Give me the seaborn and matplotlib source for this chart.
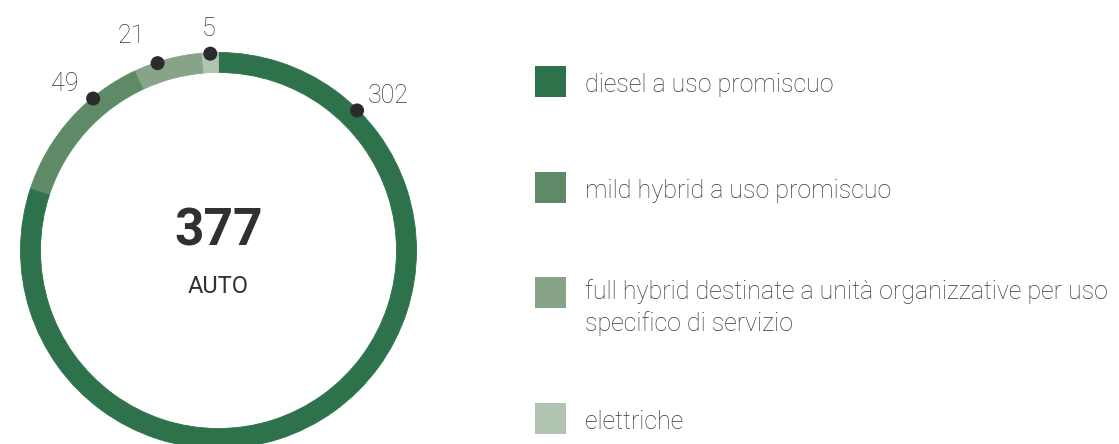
import numpy as np
import pandas as pd
import matplotlib
matplotlib.use("Agg")
import matplotlib.pyplot as plt
import seaborn as sns

# --- data -------------------------------------------------------------
categories = [
    "diesel a uso promiscuo",
    "mild hybrid a uso promiscuo",
    "full hybrid destinate a unità organizzative per uso\nspecifico di servizio",
    "elettriche",
]
counts = [302, 49, 21, 5]
unit_label = "AUTO"
colors = ["#2E724B", "#5E8A67", "#87A488", "#B0C4B1"]

# --- layout -----------------------------------------------------------
# position of each value marker along its own arc (fraction from arc start,
# arcs run clockwise from twelve o'clock)
marker_frac = [0.155, 0.686, 0.34, 0.5]
# value label offset from its marker, pixels (right, up), baseline anchored
label_offsets = [(31, 7), (-28, 7.5), (-26, 20.5), (-2, 18)]
# legend rows: vertical centre of each swatch, pixels from top
legend_rows = [81.3, 187.3, 292.7, 418.3]

W, H, DPI = 1119, 444, 100
CX, CY = 218.5, H - 250.5
R_OUT, RING = 198, 20
HALF = 262

TEXT = "#363636"

sns.set_theme(style="white")
plt.rcParams["font.family"] = ["Roboto", "DejaVu Sans"]

fig = plt.figure(figsize=(W / DPI, H / DPI), dpi=DPI)
fig.patch.set_facecolor("white")

# donut axes: one data unit == one pixel, origin at the ring centre
ax = fig.add_axes([(CX - HALF) / W, (CY - HALF) / H, 2 * HALF / W, 2 * HALF / H])
ax.pie(counts, colors=colors, radius=R_OUT, startangle=90, counterclock=False,
       wedgeprops=dict(width=RING, linewidth=0.6))
for w, c in zip(ax.patches, colors):
    w.set_edgecolor(c)

total = sum(counts)
starts = np.concatenate([[0], np.cumsum(counts)[:-1]])
pos = (starts + np.array(marker_frac) * np.array(counts)) / total
theta = np.deg2rad(90 - 360 * pos)
r_dot = R_OUT - 1
dots = pd.DataFrame({"x": r_dot * np.cos(theta), "y": r_dot * np.sin(theta),
                     "value": counts})
sns.scatterplot(data=dots, x="x", y="y", s=102, color="#2b2b2b",
                edgecolor="none", ax=ax, zorder=5, legend=False)

for (_, row), off in zip(dots.iterrows(), label_offsets):
    ax.annotate(str(int(row["value"])), (row["x"], row["y"]), xytext=off,
                textcoords="offset pixels", ha="center", va="baseline",
                fontsize=18, fontweight="light", color=TEXT)

ax.text(0, 4.8, str(total), ha="center", va="baseline", fontsize=37,
        fontweight="bold", color="#303030")
ax.text(0, -42.8, unit_label, ha="center", va="baseline", fontsize=17,
        fontweight="normal", color="#303030")

ax.set_xlim(-HALF, HALF)
ax.set_ylim(-HALF, HALF)
ax.set_aspect("equal")
ax.axis("off")

# legend axes: pixel coordinates, y downwards
lx0 = 520
lg = fig.add_axes([lx0 / W, 0, (W - lx0) / W, 1])
leg = pd.DataFrame({"x": [550.0] * len(categories), "y": legend_rows,
                    "cat": categories})
sns.scatterplot(data=leg, x="x", y="y", hue="cat", palette=colors, marker="s",
                s=(31 * 72 / DPI) ** 2, edgecolor="none", legend=False, ax=lg)
line_gap = 31.4
for cat, yc in zip(categories, legend_rows):
    lines = cat.split("\n")
    base = yc + (11 if len(lines) == 1 else 6.6)
    for k, line in enumerate(lines):
        lg.text(585, base + k * line_gap, line, ha="left", va="baseline",
                fontsize=18, fontweight="light", color=TEXT)
lg.set_xlim(lx0, W)
lg.set_ylim(H, 0)
lg.axis("off")

fig.savefig("out.png", dpi=DPI, facecolor="white")
